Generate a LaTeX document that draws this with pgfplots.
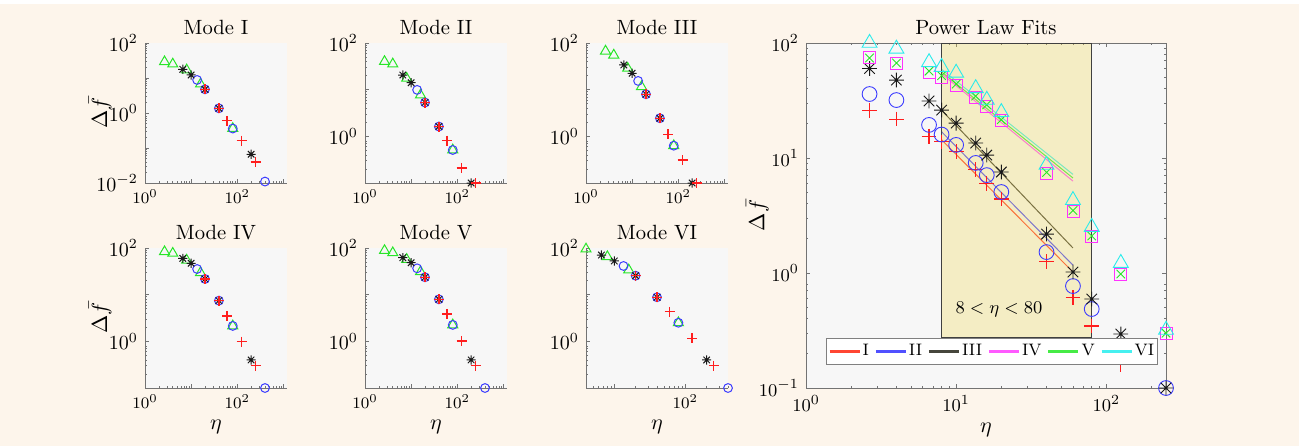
\documentclass[border=0pt]{standalone}
\usepackage{pgfplots}
\pgfplotsset{compat=1.18}
\definecolor{figbg}{RGB}{253,245,235}
\definecolor{plotbg}{RGB}{247,247,247}
\definecolor{mred}{RGB}{255,30,30}
\definecolor{mblue}{RGB}{60,60,255}
\definecolor{mblack}{RGB}{25,25,25}
\definecolor{mgreen}{RGB}{40,230,40}
\definecolor{mmag}{RGB}{255,50,255}
\definecolor{mcyan}{RGB}{40,235,235}
\definecolor{lred}{RGB}{255,70,50}
\definecolor{lblue}{RGB}{80,80,255}
\definecolor{lblack}{RGB}{70,70,60}
\definecolor{lmag}{RGB}{255,90,255}
\definecolor{lgreen}{RGB}{70,235,70}
\definecolor{lcyan}{RGB}{70,240,240}
\definecolor{patchc}{RGB}{240,214,80}

\pgfdeclareplotmark{mstar}{%
  \pgfpathmoveto{\pgfqpoint{-\pgfplotmarksize}{0pt}}%
  \pgfpathlineto{\pgfqpoint{\pgfplotmarksize}{0pt}}%
  \pgfpathmoveto{\pgfqpoint{0pt}{-\pgfplotmarksize}}%
  \pgfpathlineto{\pgfqpoint{0pt}{\pgfplotmarksize}}%
  \pgfpathmoveto{\pgfqpoint{-0.7071\pgfplotmarksize}{-0.7071\pgfplotmarksize}}%
  \pgfpathlineto{\pgfqpoint{0.7071\pgfplotmarksize}{0.7071\pgfplotmarksize}}%
  \pgfpathmoveto{\pgfqpoint{-0.7071\pgfplotmarksize}{0.7071\pgfplotmarksize}}%
  \pgfpathlineto{\pgfqpoint{0.7071\pgfplotmarksize}{-0.7071\pgfplotmarksize}}%
  \pgfusepathqstroke}

\pgfplotsset{
 every axis title shift=0pt,
 mybase/.style={scale only axis,
   axis background/.style={fill=plotbg},
   tick align=inside, major tick length=2.2pt, minor tick length=1.2pt,
   every tick/.style={black!55, line width=0.35pt},
   axis line style={black!55, line width=0.45pt},
   title style={font=\fontsize{10.3}{12}\selectfont, at={(0.5,1)}, anchor=south, yshift=0.5pt},
   label style={font=\fontsize{10.5}{12}\selectfont}},
 mysmall/.style={mybase, width=71pt, height=70pt, axis x line*=bottom, axis y line*=left,
   xmin=1, xmax=1200, ymin=0.1, ymax=100,
   xtick={1,10,100,1000}, xticklabels={$10^{0}$,,$10^{2}$,},
   minor xtick={2,3,...,9,20,30,...,90,200,300,...,900},
   ytick={0.1,1,10,100}, yticklabels={,$10^{0}$,,$10^{2}$},
   minor ytick={0.2,0.3,...,0.9,2,3,...,9,20,30,...,90},
   xticklabel style={font=\fontsize{8}{9}\selectfont},
   yticklabel style={font=\fontsize{9.8}{11}\selectfont},
   xlabel style={yshift=1pt},
   ylabel style={at={(axis description cs:-0.315,0.5)}, anchor=center}},
 mybig/.style={mybase, width=180pt, height=172.5pt, xmin=1, xmax=250, ymin=0.1, ymax=100,
   xtick={1,10,100}, ytick={0.1,1,10,100},
   minor xtick={2,3,...,9,20,30,...,90,200},
   minor ytick={0.2,0.3,...,0.9,2,3,...,9,20,30,...,90},
   tick label style={font=\fontsize{9.3}{10}\selectfont}},
 sT/.style={only marks, mark=triangle, mark size=2.9pt, color=mgreen, line width=0.5pt},
 sO/.style={only marks, mark=o, mark size=2.2pt, color=mblue, line width=0.5pt},
 sS/.style={only marks, mark=mstar, mark size=2.3pt, color=mblack, line width=0.5pt},
 sP/.style={only marks, mark=+, mark size=2.5pt, color=mred, line width=0.65pt},
}

\begin{document}
\begin{tikzpicture}
\fill[figbg] (0,0) rectangle (649.5pt,223pt);
\fill[white] (0,221pt) rectangle (649.5pt,223pt);

% ---------- Mode I
\begin{loglogaxis}[mysmall, at={(72.5pt,131.5pt)}, anchor=south west, title={Mode I},
  ylabel={$\Delta\bar{f}$}, ymin=0.01, ytick={0.01,0.1,1,10,100},
  yticklabels={$10^{-2}$,,$10^{0}$,,$10^{2}$},
  minor ytick={0.02,0.03,...,0.09,0.2,0.3,...,0.9,2,3,...,9,20,30,...,90}]
\addplot[sT] coordinates {(2.65,29) (4,25) (8,17) (16,6.7) (80,0.36)};
\addplot[sO] coordinates {(13.5,8.8) (20,4.75) (40,1.36) (80,0.36) (400,0.011)};
\addplot[sS] coordinates {(6.6,17.7) (10,12.2) (20,4.75) (40,1.36) (200,0.066)};
\addplot[sP] coordinates {(20,4.75) (40,1.36) (60,0.6) (125,0.162) (250,0.04)};
\end{loglogaxis}

% ---------- Mode II
\begin{loglogaxis}[mysmall, at={(182.5pt,131.5pt)}, anchor=south west, title={Mode II}]
\addplot[sT] coordinates {(2.65,40) (4,35.5) (8,17.5) (16,7.7) (80,0.51)};
\addplot[sO] coordinates {(13.5,9.9) (20,5.3) (40,1.62) (80,0.51)};
\addplot[sS] coordinates {(6.6,20.6) (10,14.1) (20,5.3) (40,1.62) (200,0.1)};
\addplot[sP] coordinates {(20,5.3) (40,1.62) (60,0.81) (125,0.21) (250,0.1)};
\end{loglogaxis}

% ---------- Mode III
\begin{loglogaxis}[mysmall, at={(293pt,131.5pt)}, anchor=south west, title={Mode III}]
\addplot[sT] coordinates {(2.65,67) (4,55) (8,28.7) (16,11.6) (80,0.63)};
\addplot[sO] coordinates {(13.5,15.4) (20,7.97) (40,2.44) (80,0.63)};
\addplot[sS] coordinates {(6.6,33.8) (10,22.4) (20,7.97) (40,2.44) (200,0.1)};
\addplot[sP] coordinates {(20,7.97) (40,2.44) (60,1.11) (125,0.31) (250,0.1)};
\end{loglogaxis}

% ---------- Mode IV
\begin{loglogaxis}[mysmall, at={(72.5pt,29pt)}, anchor=south west, title={Mode IV},
  ylabel={$\Delta\bar{f}$}, xlabel={$\eta$}]
\addplot[sT] coordinates {(2.65,83) (4,77) (8,55) (16,29.6) (80,2.14)};
\addplot[sO] coordinates {(13.5,35.5) (20,21.7) (40,7.45) (80,2.14) (400,0.1)};
\addplot[sS] coordinates {(6.6,60) (10,47) (20,21.7) (40,7.45) (200,0.4)};
\addplot[sP] coordinates {(20,21.7) (40,7.45) (60,3.5) (125,0.99) (250,0.3)};
\end{loglogaxis}

% ---------- Mode V
\begin{loglogaxis}[mysmall, at={(182.5pt,29pt)}, anchor=south west, title={Mode V}, xlabel={$\eta$}]
\addplot[sT] coordinates {(2.65,88) (4,79) (8,57) (16,31) (80,2.25)};
\addplot[sO] coordinates {(13.5,36.7) (20,23.6) (40,7.95) (80,2.25) (400,0.1)};
\addplot[sS] coordinates {(6.6,62) (10,48.5) (20,23.6) (40,7.95) (200,0.4)};
\addplot[sP] coordinates {(20,23.6) (40,7.95) (60,3.86) (125,1.02) (250,0.3)};
\end{loglogaxis}

% ---------- Mode VI
\begin{loglogaxis}[mysmall, at={(293pt,29pt)}, anchor=south west, title={Mode VI}, xlabel={$\eta$},
  xmin=4, xmax=400, xtick={10,100}, xticklabels={,$10^{2}$},
  minor xtick={5,6,7,8,9,20,30,...,90,200,300,400}]
\addplot[sT] coordinates {(4,95) (8,65) (16,33.8) (80,2.5)};
\addplot[sO] coordinates {(13.5,41.2) (20,25.5) (40,8.8) (80,2.5) (400,0.1)};
\addplot[sS] coordinates {(6.6,70.8) (10,52.7) (20,25.5) (40,8.8) (200,0.4)};
\addplot[sP] coordinates {(20,25.5) (40,8.8) (60,4.3) (125,1.16) (250,0.3)};
\end{loglogaxis}

% ---------- Power law fits
\begin{loglogaxis}[mybig, at={(403pt,29pt)}, anchor=south west, title={Power Law Fits},
  xlabel={$\eta$}, ylabel={$\Delta\bar{f}$},
  label style={font=\fontsize{11}{12}\selectfont},
  xlabel style={yshift=1pt},
  ylabel style={at={(axis description cs:-0.135,0.5)}, anchor=center},
  legend style={at={(0.0556,0.0667)}, anchor=south west, legend columns=6,
    draw=black!50, fill=white, font=\fontsize{8.3}{10}\selectfont,
    inner xsep=1pt, inner ysep=1.5pt,
    nodes={inner xsep=0.5pt, inner ysep=1.5pt},
    /tikz/every even column/.append style={column sep=2.3pt},
    /tikz/every odd column/.append style={column sep=0.5pt}},
  legend image code/.code={\draw[#1, line width=1.15pt] (0pt,0pt) -- (15pt,0pt);}]
\addplot[forget plot, only marks, mark=+, mark size=3.7pt, color=mred, line width=0.55pt] coordinates {
 (2.65,26) (4,21.8) (6.6,15.5) (8,13.8) (10,11.3) (13.5,7.9) (16,6.0) (20,4.4) (40,1.25) (60,0.61) (80,0.346) (125,0.16)};
\addplot[forget plot, only marks, mark=o, mark size=3.7pt, color=mblue, line width=0.45pt] coordinates {
 (2.65,36) (4,31.9) (6.6,19.4) (8,16) (10,13) (13.5,9.06) (16,7.1) (20,5.06) (40,1.52) (60,0.77) (80,0.486) (125,0.21) (250,0.1)};
\addplot[forget plot, only marks, mark=mstar, mark size=3.7pt, color=mblack, line width=0.45pt] coordinates {
 (2.65,60) (4,47.6) (6.6,31.3) (8,26.1) (10,20.1) (13.5,13.5) (16,10.6) (20,7.55) (40,2.18) (60,1.02) (80,0.594) (125,0.295) (250,0.1)};
\addplot[forget plot, only marks, mark=square, mark size=3pt, color=mmag, line width=0.45pt] coordinates {
 (2.65,75) (4,67) (6.6,55) (8,50.6) (10,43) (13.5,33.9) (16,28.3) (20,21) (40,7.4) (60,3.46) (80,2.06) (125,0.98) (250,0.3)};
\addplot[forget plot, only marks, mark=x, mark size=3pt, color=mgreen, line width=0.45pt] coordinates {
 (2.65,74) (4,67) (6.6,57) (8,52) (10,44) (13.5,34.5) (16,29) (20,21.5) (40,7.5) (60,3.5) (80,2.1) (125,0.98) (250,0.3)};
\addplot[forget plot, only marks, mark=triangle, mark size=4.3pt, color=mcyan, line width=0.45pt] coordinates {
 (2.65,100) (4,89) (6.6,68) (8,61.8) (10,55) (13.5,40.4) (16,32) (20,25) (40,8.7) (60,4.3) (80,2.51) (125,1.22) (250,0.32)};
% fits
\addplot[lred, line width=0.5pt] coordinates {(8,14.4) (60,1.02)};
\addlegendentry{I}
\addplot[lblue, line width=0.5pt] coordinates {(8,16.9) (60,1.17)};
\addlegendentry{II}
\addplot[lblack, line width=0.5pt] coordinates {(8,26) (60,1.65)};
\addlegendentry{III}
\addplot[lmag, line width=0.5pt] coordinates {(8,54) (60,6.3)};
\addlegendentry{IV}
\addplot[lgreen, line width=0.5pt] coordinates {(8,56) (60,6.7)};
\addlegendentry{V}
\addplot[lcyan, line width=0.5pt] coordinates {(8,59) (60,7.2)};
\addlegendentry{VI}
% shaded fit range
\addplot[forget plot, draw=black!75, line width=0.45pt, fill=patchc, fill opacity=0.3] coordinates {(8,0.277) (8,100) (80,100) (80,0.277)} -- cycle;
\node[font=\fontsize{9.5}{10}\selectfont] at (axis cs:19.3,0.48) {$8 < \eta < 80$};
\end{loglogaxis}
\end{tikzpicture}
\end{document}
